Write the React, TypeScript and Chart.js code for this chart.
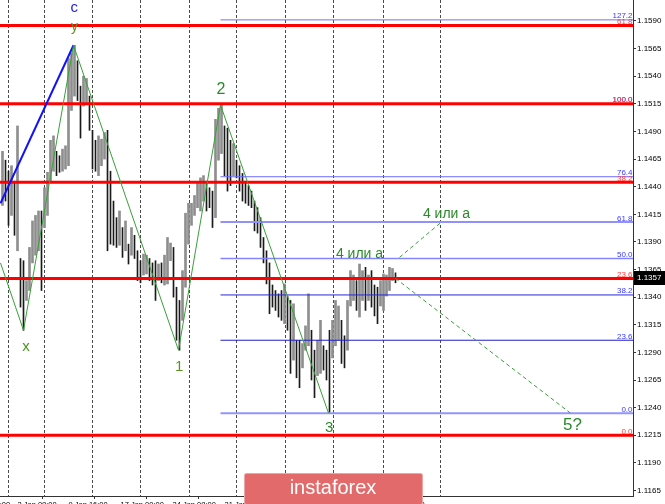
import React, { useEffect, useRef } from "react";
import { Chart, registerables } from "chart.js";

Chart.register(...registerables);

// ---------- DATA ----------
const barHigh = [
  1.1472, 1.1464, 1.1454, 1.1459, 1.1445, 1.1495, 1.1375, 1.1373, 1.1355, 1.1385,
  1.1409, 1.1414, 1.1418, 1.1418, 1.1439, 1.1453, 1.1482, 1.1486, 1.1472, 1.1468,
  1.1474, 1.1477, 1.1556, 1.1561, 1.1568, 1.1554, 1.1531, 1.1540, 1.1538, 1.1522,
  1.1491, 1.1482, 1.1486, 1.1483, 1.1489, 1.1491, 1.1454, 1.1427, 1.1412, 1.1418,
  1.1403, 1.1409, 1.1388, 1.1403, 1.1396, 1.1382, 1.1373, 1.1379, 1.1378, 1.1375,
  1.1371, 1.1373, 1.1370, 1.1371, 1.1378, 1.1394, 1.1389, 1.1385, 1.1349, 1.1337,
  1.1364, 1.1416, 1.1425, 1.1425, 1.1432, 1.1443, 1.1448, 1.1450, 1.1445, 1.1439,
  1.1436, 1.1501, 1.1511, 1.1514, 1.1495, 1.1493, 1.1482, 1.1479, 1.1464, 1.1459,
  1.1452, 1.1445, 1.1441, 1.1436, 1.1427, 1.1421, 1.1412, 1.1394, 1.1382, 1.1371,
  1.1351, 1.1346, 1.1343, 1.1346, 1.1352, 1.1341, 1.1337, 1.1334, 1.1301, 1.1301,
  1.1298, 1.1314, 1.1343, 1.1310, 1.1292, 1.1301, 1.1319, 1.1296, 1.1292, 1.1310,
  1.1319, 1.1337, 1.1332, 1.1319, 1.1305, 1.1337, 1.1364, 1.1360, 1.1355, 1.1370,
  1.1364, 1.1367, 1.1360, 1.1364, 1.1351, 1.1349, 1.1355, 1.1361, 1.1360, 1.1367,
  1.1366, 1.1362,
];
const barLow = [
  1.1423, 1.1427, 1.1405, 1.1414, 1.1396, 1.1382, 1.1331, 1.1310, 1.1337, 1.1346,
  1.1371, 1.1378, 1.1382, 1.1346, 1.1403, 1.1414, 1.1445, 1.1454, 1.1450, 1.1453,
  1.1454, 1.1456, 1.1459, 1.1509, 1.1522, 1.1518, 1.1484, 1.1513, 1.1515, 1.1491,
  1.1456, 1.1454, 1.1450, 1.1459, 1.1465, 1.1382, 1.1388, 1.1387, 1.1385, 1.1387,
  1.1376, 1.1382, 1.1370, 1.1378, 1.1375, 1.1355, 1.1353, 1.1360, 1.1361, 1.1355,
  1.1351, 1.1337, 1.1355, 1.1353, 1.1351, 1.1352, 1.1373, 1.1340, 1.1301, 1.1292,
  1.1319, 1.1349, 1.1388, 1.1405, 1.1414, 1.1421, 1.1418, 1.1427, 1.1418, 1.1421,
  1.1403, 1.1412, 1.1464, 1.1470, 1.1450, 1.1436, 1.1441, 1.1450, 1.1448, 1.1436,
  1.1427, 1.1425, 1.1423, 1.1421, 1.1400, 1.1398, 1.1385, 1.1371, 1.1352, 1.1325,
  1.1331, 1.1328, 1.1322, 1.1319, 1.1316, 1.1310, 1.1271, 1.1283, 1.1267, 1.1258,
  1.1276, 1.1292, 1.1296, 1.1265, 1.1249, 1.1269, 1.1271, 1.1274, 1.1265, 1.1235,
  1.1285, 1.1296, 1.1301, 1.1280, 1.1276, 1.1292, 1.1332, 1.1337, 1.1328, 1.1322,
  1.1337, 1.1328, 1.1337, 1.1331, 1.1323, 1.1316, 1.1332, 1.1328, 1.1341, 1.1346,
  1.1355, 1.1353,
];
const lastPrice = 1.1357;

const yTickValues = [
  1.1165, 1.119, 1.1215, 1.124, 1.1265, 1.129, 1.1315, 1.134, 1.1365,
  1.139, 1.1415, 1.144, 1.1465, 1.149, 1.1515, 1.154, 1.1565, 1.159,
];
const xTickIndex = [-12.33, 5, 22, 39.33, 56.67, 74, 91.33, 108.67, 126];
const xTickLabels = [
  "26 Dec 00:00", "2 Jan 08:00", "9 Jan 16:00", "17 Jan 00:00", "24 Jan 08:00",
  "31 Jan 16:00", "8 Feb 00:00", "15 Feb 08:00", "22 Feb 16:00",
];
const separatorIndex = [1.67, 13.67, 29.67, 45.67, 62, 78, 94.33, 110.33, 126.67, 145.67];

// wave structure (bar index, price)
const waveX = [-0.67, 7, 23.67, 58.67, 72.67, 108.67];
const waveY = [1.1371, 1.131, 1.1568, 1.1292, 1.1514, 1.1235];
const cLineX = [-0.67, 23.67];
const cLineY = [1.1425, 1.1568];
const projUpX = [132.33, 146.33];
const projUpY = [1.1376, 1.1408];
const projDownX = [131, 189.33];
const projDownY = [1.1357, 1.1235];

// horizontal levels
const redLevels = [1.1586, 1.1515, 1.1444, 1.1357, 1.1215];
const redLabels = ["61.8", "100.0", "38.2", "23.6", "0.0"];
const fibBlueLabels = ["127.2", "100.0", "76.4", "61.8", "50.0", "38.2", "23.6", "0.0"];
const fibBluePrices = [1.1591, 1.1515, 1.1449, 1.1408, 1.1375, 1.1342, 1.1301, 1.1235];
const fibStartIndex = 72.67;

// text annotations
const noteText = ["c", "y", "x", "1", "2", "3", "4 или а", "4 или а", "5?"];
const noteX = [23.9, 24, 7.8, 58.9, 72.8, 108.9, 119, 148, 190];
const noteY = [1.1602, 1.1584, 1.1295, 1.1277, 1.1528, 1.1222, 1.1379, 1.1415, 1.1224];

// ---------- STYLES ----------
const X_MIN = -2.5 / 3;
const X_MAX = 630.5 / 3;
const FONT = "'Liberation Sans', Arial, sans-serif";
const fibBlueColors = ["#6f6fff", "#6f6fff", "#6a6aff", "#9090ff", "#8585ff", "#2828d8", "#2020c8", "#9494ff"];
const fibBlueWidths = [1, 1, 1, 2, 1.5, 1, 1, 2];
const noteColors = ["#2222e0", "#5c9420", "#4a9420", "#5c9420", "#2a8a2a", "#2a8a2a", "#2a8a2a", "#2a8a2a", "#2a8a2a"];
const noteSizes = [15, 14, 15, 15, 16, 15, 14, 14, 17];

function pts(xs: number[], ys: number[]) {
  return xs.map((x, i) => ({ x, y: ys[i] }));
}

export default function App() {
  const ref = useRef<HTMLCanvasElement>(null);

  useEffect(() => {
    document.body.style.margin = "0";
    const canvas = ref.current;
    if (!canvas) return;

    const isUp = barHigh.map((h, i) => {
      if (i === 0) return true;
      return h + barLow[i] >= barHigh[i - 1] + barLow[i - 1];
    });

    const datasets: any[] = [];
    datasets.push({
      type: "bar",
      data: barHigh.map((h, i) => ({ x: i, y: isUp[i] ? [barLow[i], h] : null })),
      backgroundColor: "#8e8e8e",
      borderWidth: 0,
      barThickness: 2,
      skipNull: true,
      order: 31,
    });
    datasets.push({
      type: "bar",
      data: barHigh.map((h, i) => ({ x: i, y: isUp[i] ? null : [barLow[i], h] })),
      backgroundColor: "#1a1a1a",
      borderWidth: 0,
      barThickness: 1,
      skipNull: true,
      order: 30,
    });
    fibBluePrices.forEach((p, k) => {
      datasets.push({
        type: "line",
        data: [{ x: fibStartIndex, y: p }, { x: X_MAX, y: p }],
        borderColor: fibBlueColors[k],
        borderWidth: fibBlueWidths[k],
        pointRadius: 0,
        order: 20,
      });
    });
    redLevels.forEach((p) => {
      datasets.push({
        type: "line",
        data: [{ x: X_MIN, y: p }, { x: X_MAX, y: p }],
        borderColor: "#ff0000",
        borderWidth: 3,
        pointRadius: 0,
        order: 15,
      });
    });
    datasets.push({
      type: "line",
      data: pts(cLineX, cLineY),
      borderColor: "#1010ff",
      borderWidth: 2,
      pointRadius: 0,
      order: 6,
    });
    datasets.push({
      type: "line",
      data: pts(waveX, waveY),
      borderColor: "#38a038",
      borderWidth: 1,
      pointRadius: 0,
      order: 5,
    });
    datasets.push({
      type: "line",
      data: pts(projUpX, projUpY),
      borderColor: "#3a9c3a",
      borderWidth: 1,
      borderDash: [4, 3],
      pointRadius: 0,
      order: 5,
    });
    datasets.push({
      type: "line",
      data: pts(projDownX, projDownY),
      borderColor: "#3a9c3a",
      borderWidth: 1,
      borderDash: [4, 3],
      pointRadius: 0,
      order: 5,
    });

    const overlay = {
      id: "overlay",
      beforeDatasetsDraw(chart: any) {
        const { ctx, chartArea: a, scales } = chart;
        const x = scales.x;
        ctx.save();
        ctx.strokeStyle = "#4a4a4a";
        ctx.lineWidth = 1;
        ctx.setLineDash([3, 2]);
        separatorIndex.forEach((v) => {
          const px = Math.round(x.getPixelForValue(v)) + 0.5;
          ctx.beginPath();
          ctx.moveTo(px, a.top);
          ctx.lineTo(px, a.bottom);
          ctx.stroke();
        });
        ctx.restore();
      },
      afterDatasetsDraw(chart: any) {
        const { ctx, chartArea: a, scales } = chart;
        const x = scales.x;
        const y = scales.y;
        ctx.save();
        ctx.font = `8px ${FONT}`;
        ctx.textAlign = "right";
        ctx.textBaseline = "alphabetic";
        fibBluePrices.forEach((p, k) => {
          ctx.fillStyle = "#3a3aff";
          ctx.fillText(fibBlueLabels[k], a.right - 0.5, y.getPixelForValue(p) - 1.5);
        });
        redLevels.forEach((p, k) => {
          ctx.fillStyle = "#ff3a3a";
          ctx.fillText(redLabels[k], a.right - 0.5, y.getPixelForValue(p) - 1.5);
        });
        ctx.textAlign = "center";
        ctx.textBaseline = "middle";
        noteText.forEach((t, k) => {
          ctx.font = `${noteSizes[k]}px ${FONT}`;
          ctx.fillStyle = noteColors[k];
          ctx.fillText(t, x.getPixelForValue(noteX[k]), y.getPixelForValue(noteY[k]));
        });
        ctx.restore();
      },
      afterDraw(chart: any) {
        const { ctx, chartArea: a, scales, width, height } = chart;
        const y = scales.y;
        ctx.save();
        const py = y.getPixelForValue(lastPrice);
        ctx.fillStyle = "#000";
        ctx.fillRect(a.right + 1, Math.round(py) - 7, width - a.right - 1, 14);
        ctx.fillStyle = "#fff";
        ctx.font = `8px ${FONT}`;
        ctx.textAlign = "left";
        ctx.textBaseline = "middle";
        ctx.fillText(lastPrice.toFixed(4), a.right + 4, Math.round(py));
        const bx = 244, bw = 178, by = 473, bh = height - 473;
        ctx.fillStyle = "#e26a6a";
        ctx.strokeStyle = "#eea4a4";
        ctx.lineWidth = 1;
        ctx.beginPath();
        if ((ctx as any).roundRect) (ctx as any).roundRect(bx + 0.5, by + 0.5, bw, bh, 2);
        else ctx.rect(bx + 0.5, by + 0.5, bw, bh);
        ctx.fill();
        ctx.stroke();
        ctx.fillStyle = "#ffffff";
        ctx.font = `20px ${FONT}`;
        ctx.textAlign = "center";
        ctx.textBaseline = "alphabetic";
        ctx.fillText("instaforex", bx + bw / 2, 494);
        ctx.restore();
      },
    };

    const chart = new Chart(canvas, {
      type: "bar",
      data: { datasets },
      options: {
        animation: false,
        responsive: false,
        maintainAspectRatio: false,
        devicePixelRatio: 1,
        events: [],
        layout: { padding: 0 },
        plugins: {
          legend: { display: false },
          tooltip: { enabled: false },
        },
        scales: {
          x: {
            type: "linear",
            min: X_MIN,
            max: X_MAX,
            offset: false,
            position: "bottom",
            afterBuildTicks: (s: any) => {
              s.ticks = xTickIndex.map((v) => ({ value: v }));
            },
            afterFit: (s: any) => {
              s.height = 8;
              s.paddingLeft = 0;
              s.paddingRight = 0;
            },
            grid: { drawOnChartArea: false, drawTicks: true, tickLength: 3, color: "#333" },
            border: { display: true, color: "#333", width: 1 },
            ticks: {
              autoSkip: false,
              maxRotation: 0,
              minRotation: 0,
              align: "start",
              padding: 1,
              color: "#000",
              font: { family: FONT, size: 7.5 },
              callback: (_v: any, idx: number) => xTickLabels[idx],
            },
          },
          y: {
            type: "linear",
            position: "right",
            min: 1.116,
            max: 1.1609,
            afterBuildTicks: (s: any) => {
              s.ticks = yTickValues.map((v) => ({ value: v }));
            },
            afterFit: (s: any) => {
              s.width = 32;
              s.paddingTop = 0;
              s.paddingBottom = 0;
            },
            grid: { drawOnChartArea: false, drawTicks: true, tickLength: 3, color: "#333" },
            border: { display: true, color: "#333", width: 1 },
            ticks: {
              autoSkip: false,
              padding: 1,
              color: "#000",
              font: { family: FONT, size: 8 },
              callback: (v: any) => Number(v).toFixed(4),
            },
          },
        },
      } as any,
      plugins: [overlay],
    } as any);

    return () => chart.destroy();
  }, []);

  return (
    <div style={{ width: 665, height: 504, background: "#fff" }}>
      <canvas ref={ref} width={665} height={504} style={{ display: "block" }} />
    </div>
  );
}
